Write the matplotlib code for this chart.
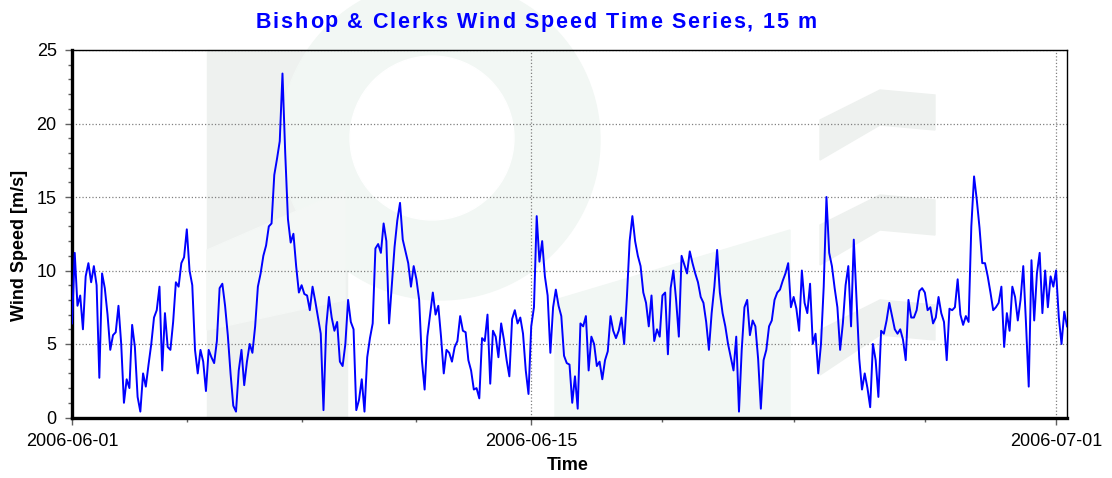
import pandas as pd
import matplotlib.pyplot as plt
import matplotlib.dates as mdates
from matplotlib.patches import Rectangle, Circle, Polygon

plt.rcParams['font.family'] = ['Liberation Sans', 'DejaVu Sans']

# wind speed [m/s], 2-hourly samples starting 2006-06-01 00:00
week1 = [
    6.4, 11.2, 7.6, 8.3, 6.0, 9.6, 10.5, 9.2, 10.3, 9.0, 2.7, 9.8,
    8.8, 7.0, 4.6, 5.6, 5.8, 7.6, 5.0, 1.0, 2.6, 2.0, 6.3, 4.8,
    1.4, 0.4, 3.0, 2.1, 3.6, 5.0, 6.8, 7.3, 8.9, 3.2, 7.1, 4.8,
    4.6, 6.5, 9.2, 8.9, 10.5, 10.9, 12.8, 10.0, 9.0, 4.6, 3.0, 4.6,
    3.8, 1.8, 4.6, 4.1, 3.7, 5.2, 8.8, 9.1, 7.6, 5.6, 3.0, 0.8,
    0.4, 3.2, 4.6, 2.2, 3.8, 5.0, 4.4, 6.2, 8.9, 9.8, 11.0, 11.7,
    13.0, 13.2, 16.5, 17.6, 18.8, 23.4, 18.0, 13.5, 11.9, 12.5, 10.3, 8.5,
]
week2 = [
    9.0, 8.4, 8.3, 7.3, 8.9, 7.9, 6.8, 5.7, 0.5, 6.2, 8.2, 6.8,
    5.9, 6.5, 3.8, 3.5, 5.0, 8.0, 6.5, 6.0, 0.5, 1.2, 2.6, 0.4,
    4.1, 5.4, 6.4, 11.5, 11.8, 11.2, 13.2, 12.0, 6.4, 9.0, 11.6, 13.4,
    14.6, 12.1, 11.3, 10.5, 8.9, 10.3, 9.4, 8.0, 3.9, 1.9, 5.5, 7.0,
    8.5, 7.0, 7.6, 5.5, 3.0, 4.6, 4.4, 3.8, 4.8, 5.2, 6.9, 5.9,
    5.8, 3.9, 3.2, 1.9, 2.0, 1.3, 5.4, 5.2, 7.0, 2.3, 5.9, 5.5,
    4.1, 6.4, 5.3, 3.9, 2.8, 6.7, 7.3, 6.4, 6.8, 5.7, 3.2, 1.6,
]
week3 = [
    6.2, 7.5, 13.7, 10.6, 12.0, 9.6, 8.3, 4.4, 7.5, 8.7, 7.6, 6.9,
    4.2, 3.7, 3.6, 1.0, 2.8, 0.6, 6.4, 6.2, 6.9, 3.2, 5.5, 5.0,
    3.5, 3.8, 2.6, 3.9, 4.5, 6.9, 5.9, 5.4, 5.9, 6.8, 5.0, 8.2,
    12.0, 13.7, 12.0, 11.0, 10.3, 8.5, 7.8, 6.2, 8.3, 5.2, 6.0, 5.5,
    8.3, 8.5, 4.3, 8.8, 10.0, 8.0, 5.5, 11.0, 10.4, 9.8, 11.3, 10.5,
    9.8, 9.2, 8.2, 7.8, 6.5, 4.6, 7.1, 8.9, 11.4, 8.5, 7.1, 6.2,
    5.0, 4.1, 3.2, 5.5, 0.4, 4.6, 7.5, 8.0, 5.6, 6.6, 6.2, 4.0,
]
week4 = [
    0.6, 3.9, 4.6, 6.2, 6.6, 8.0, 8.5, 8.7, 9.3, 9.8, 10.5, 7.5,
    8.2, 7.4, 5.9, 10.0, 7.8, 7.1, 9.1, 5.0, 5.7, 3.0, 5.0, 8.9,
    15.0, 11.2, 10.3, 8.8, 7.5, 4.6, 6.4, 9.0, 10.3, 6.2, 12.1, 8.0,
    4.0, 1.9, 3.0, 2.0, 0.7, 5.0, 3.9, 1.4, 5.9, 5.7, 6.6, 7.8,
    6.9, 6.0, 5.7, 6.0, 5.3, 3.9, 8.0, 6.8, 6.8, 7.3, 8.6, 8.8,
    8.5, 7.3, 7.5, 6.4, 6.8, 8.2, 7.1, 6.5, 3.9, 7.4, 7.3, 7.5,
    9.4, 7.0, 6.3, 6.9, 6.5, 13.0, 16.4, 14.8, 12.9, 10.5, 10.5, 9.6,
]
week5 = [
    8.5, 7.3, 7.5, 7.8, 8.9, 4.8, 7.1, 5.9, 8.9, 8.2, 6.6, 8.0,
    10.3, 6.4, 2.1, 10.7, 6.6, 9.8, 11.2, 7.1, 10.0, 7.5, 9.6, 8.9,
    10.0, 6.8, 5.0, 7.2, 6.2,
]

speed = week1 + week2 + week3 + week4 + week5
times = pd.date_range('2006-06-01', periods=len(speed), freq='2h')
df = pd.DataFrame({'Time': times, 'Speed': speed})

major_dates = ['2006-06-01 00:00', '2006-06-15 00:00', '2006-07-01 00:00']
minor_dates = ['2006-06-04 12:00', '2006-06-08 00:00', '2006-06-11 12:00',
               '2006-06-19 00:00', '2006-06-23 00:00', '2006-06-27 00:00']

title = 'Bishop & Clerks Wind Speed Time Series, 15 m'

W, H = 1112, 478
fig = plt.figure(figsize=(W / 100, H / 100), dpi=100)
ax = fig.add_axes([72 / W, 1 - 417.5 / H, (1067 - 72) / W, (417.5 - 50) / H])


def px(pts):
    # pixel coords from the top-left corner -> display coords
    return [(x, H - y) for x, y in pts]


# faint logo watermark in the background
band = '#eef1ef'
mint = '#f2f7f4'
bg = [
    Rectangle((207, H - 418), 140, 368, color=band),
    Circle((440, H - 140), 160, color=mint),
    Circle((432, H - 138), 82, color='white'),
    Polygon(px([(207, 250), (345, 190), (345, 300), (207, 330)]), color='#f4f7f5'),
    Polygon(px([(555, 300), (790, 230), (790, 418), (555, 418)]), color=mint),
    Polygon(px([(820, 120), (880, 90), (935, 95), (935, 130), (880, 125), (820, 160)]), color=band),
    Polygon(px([(820, 225), (880, 195), (935, 200), (935, 235), (880, 230), (820, 265)]), color=band),
    Polygon(px([(820, 330), (880, 300), (935, 305), (935, 340), (880, 335), (820, 375)]), color=band),
]
for p in bg:
    p.set_transform(None)
    p.set_zorder(-5)
    fig.patches.append(p)

ax.set_facecolor('none')
ax.plot(df['Time'], df['Speed'], color='#0000ff', linewidth=1.4, zorder=3)

ax.set_ylim(0, 25)
ax.set_xlim(df['Time'].iloc[0], df['Time'].iloc[-1])
ax.set_yticks([0, 5, 10, 15, 20, 25])
ax.set_yticks(range(0, 26), minor=True)
ax.set_xticks(pd.to_datetime(major_dates))
ax.set_xticks(pd.to_datetime(minor_dates), minor=True)
ax.xaxis.set_major_formatter(mdates.DateFormatter('%Y-%m-%d'))

ax.grid(True, which='major', linestyle=':', color='#808080', linewidth=0.9)
ax.tick_params(which='major', length=5, width=1, color='#606060', labelsize=13, pad=6)
ax.tick_params(which='minor', length=3, width=1, color='#606060')

for side in ['left', 'bottom']:
    ax.spines[side].set_linewidth(2.4)
for side in ['top', 'right']:
    ax.spines[side].set_linewidth(1.0)

ax.set_ylabel('Wind Speed [m/s]', fontsize=13, fontweight='bold')
ax.yaxis.set_label_coords((28 - 72) / 995, (417.5 - 245) / 367.5)
ax.set_xlabel('Time', fontsize=13, fontweight='bold')
ax.xaxis.set_label_coords((568 - 72) / 995, (417.5 - 457) / 367.5)

# title drawn letter by letter to get the wide tracking of the original
renderer = fig.canvas.get_renderer()
chars = []
for ch in title:
    t = fig.text(0, 1 - 22 / H, ch, color='#0000ff', fontsize=15.5,
                 fontweight='bold', va='center', ha='left')
    chars.append(t)
widths = [t.get_window_extent(renderer).width if ch != ' ' else 5.5
          for t, ch in zip(chars, title)]
track = 1.9
total = sum(widths) + track * (len(title) - 1)
x = 536 - total / 2
for t, w in zip(chars, widths):
    t.set_x(x / W)
    x += w + track

plt.savefig('out.png', dpi=100)
